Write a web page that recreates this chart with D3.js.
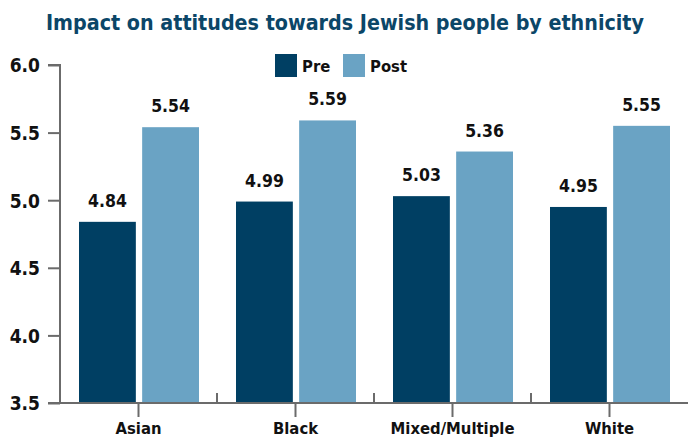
<!DOCTYPE html>
<html><head><meta charset="utf-8">
<script src="https://cdn.jsdelivr.net/npm/d3@7"></script>
<style>body{margin:0;background:#fff;} svg{display:block;}</style>
</head><body>
<svg id="c" width="688" height="439"></svg>
<script>
const categories = ["Asian", "Black", "Mixed/Multiple", "White"];
const seriesNames = ["Pre", "Post"];
const preValues = [4.84, 4.99, 5.03, 4.95];
const postValues = [5.54, 5.59, 5.36, 5.55];
const yTicks = [3.5, 4.0, 4.5, 5.0, 5.5, 6.0];
const colors = ["#003f63", "#6aa3c4"];

const FONT = "'DejaVu Sans Condensed', 'DejaVu Sans', sans-serif";
const svg = d3.select("#c");
const x0 = d3.scaleBand().domain(categories).range([60, 688]).paddingInner(0).paddingOuter(0);
const x1 = d3.scaleBand().domain(seriesNames).range([19, x0.bandwidth() - 18]).paddingInner(0.1);
const y = d3.scaleLinear().domain([3.5, 6.0]).range([403, 65]);

const data = categories.map((c, i) => ({cat: c, vals: [{s: "Pre", v: preValues[i]}, {s: "Post", v: postValues[i]}]}));

// title
svg.append("text").attr("x", 345).attr("y", 30).attr("text-anchor", "middle")
  .attr("font-family", FONT).attr("font-weight", "bold")
  .attr("font-size", 22).attr("fill", "#0b4668")
  .attr("textLength", 598).attr("lengthAdjust", "spacingAndGlyphs")
  .text("Impact on attitudes towards Jewish people by ethnicity");

// bars
const groups = svg.append("g").selectAll("g.grp").data(data).join("g").attr("transform", d => `translate(${x0(d.cat)},0)`);
groups.selectAll("rect").data(d => d.vals).join("rect")
  .attr("x", d => x1(d.s)).attr("width", x1.bandwidth())
  .attr("y", d => y(d.v)).attr("height", d => y(3.5) - y(d.v))
  .attr("fill", (d, i) => colors[i]);
groups.selectAll("text.val").data(d => d.vals).join("text").attr("class", "val")
  .attr("x", d => x1(d.s) + x1.bandwidth() / 2).attr("y", d => y(d.v) - 15)
  .attr("text-anchor", "middle").attr("font-family", FONT)
  .attr("font-weight", "bold").attr("font-size", 17.5).attr("fill", "#111")
  .text(d => d.v.toFixed(2));

// y axis
const yAxis = d3.axisLeft(y).tickValues(yTicks).tickFormat(d3.format(".1f")).tickSize(12).tickPadding(8);
const ya = svg.append("g").attr("transform", "translate(60,0)").call(yAxis);
ya.select(".domain").attr("stroke", "#6b6b6b").attr("stroke-width", 2).attr("d", `M-12,${y(6)}H0V${y(3.5)}`);
ya.selectAll(".tick line").attr("stroke", "#6b6b6b").attr("stroke-width", 2);
ya.selectAll(".tick text").attr("font-family", FONT)
  .attr("font-weight", "bold").attr("font-size", 19).attr("fill", "#111").attr("dy", "0.36em");

// x axis baseline
svg.append("line").attr("x1", 48).attr("x2", 688).attr("y1", y(3.5)).attr("y2", y(3.5))
  .attr("stroke", "#6b6b6b").attr("stroke-width", 2);
// band boundary ticks (upward)
svg.selectAll("line.bt").data(categories.slice(1)).join("line").attr("class", "bt")
  .attr("x1", d => x0(d)).attr("x2", d => x0(d)).attr("y1", y(3.5)).attr("y2", y(3.5) - 10)
  .attr("stroke", "#6b6b6b").attr("stroke-width", 2);
// category ticks & labels
const xAxis = d3.axisBottom(x0).tickSize(14).tickPadding(0);
const xa = svg.append("g").attr("transform", `translate(0,${y(3.5)})`).call(xAxis);
xa.select(".domain").remove();
xa.selectAll(".tick line").attr("stroke", "#6b6b6b").attr("stroke-width", 2);
xa.selectAll(".tick text").attr("font-family", FONT)
  .attr("font-weight", "bold").attr("font-size", 16.5).attr("fill", "#111")
  .attr("y", 31).attr("dy", 0);

// legend
const lg = svg.append("g");
const lx = [275, 343];
seriesNames.forEach((s, i) => {
  lg.append("rect").attr("x", lx[i]).attr("y", 54).attr("width", 22).attr("height", 23).attr("fill", colors[i]);
  lg.append("text").attr("x", lx[i] + 27).attr("y", 72).attr("font-family", FONT)
    .attr("font-weight", "bold").attr("font-size", 16.5).attr("fill", "#111").text(s);
});
</script>
</body></html>
